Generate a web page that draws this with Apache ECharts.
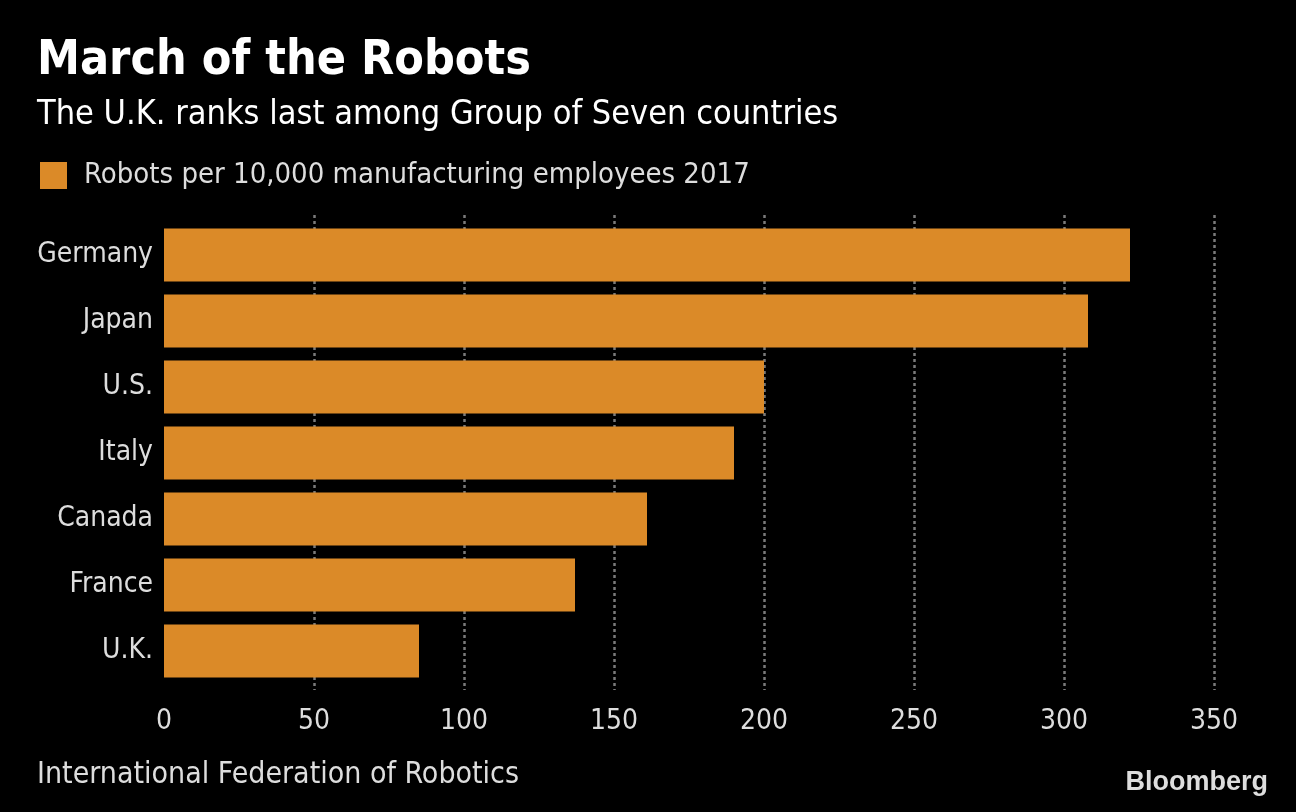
<!DOCTYPE html>
<html><head><meta charset="utf-8">
<script src="https://cdn.jsdelivr.net/npm/echarts@6/dist/echarts.min.js"></script>
<style>html,body{margin:0;padding:0;background:#000;}#c{width:1296px;height:812px;}</style>
</head><body><div id="c"></div>
<script>
const countries = ['Germany','Japan','U.S.','Italy','Canada','France','U.K.'];
const robots = [322, 308, 200, 190, 161, 137, 85];
const seriesName = 'Robots per 10,000 manufacturing employees 2017';
const xTicks = [0, 50, 100, 150, 200, 250, 300, 350];

const FONT = '"DejaVu Sans Condensed", "DejaVu Sans", sans-serif';
const chart = echarts.init(document.getElementById('c'));
chart.setOption({
  backgroundColor: '#000',
  animation: false,
  title: [
    {text: 'March of the Robots', left: 32, top: 33,
     textStyle: {color: '#fff', fontFamily: FONT, fontWeight: 'bold', fontSize: 48}},
    {text: 'The U.K. ranks last among Group of Seven countries', left: 32, top: 93,
     textStyle: {color: '#fff', fontFamily: FONT, fontWeight: 'normal', fontSize: 34}},
    {text: 'International Federation of Robotics', left: 32, top: 755,
     textStyle: {color: '#ddd', fontFamily: FONT, fontWeight: 'normal', fontSize: 30}},
    {text: 'Bloomberg', right: 23, top: 764,
     textStyle: {color: '#ddd', fontFamily: 'Liberation Sans, Arial, sans-serif', fontWeight: 'bold', fontSize: 27, letterSpacing: -1}}
  ],
  legend: {
    left: 35, top: 156, itemWidth: 27, itemHeight: 27, itemGap: 10, icon: 'rect',
    textStyle: {color: '#ddd', fontFamily: FONT, fontSize: 29, padding: [0,0,0,12]},
    data: [seriesName]
  },
  grid: [
    {left: 164, right: 82, top: 222, height: 462, containLabel: false},
    {left: 164, right: 82, top: 215, height: 475, containLabel: false}
  ],
  xAxis: [
    {gridIndex: 0, type: 'value', min: 0, max: 350, interval: 50,
     axisLine: {show: false}, axisTick: {show: false}, splitLine: {show: false},
     axisLabel: {color: '#ddd', fontFamily: FONT, fontSize: 28, margin: 24,
       formatter: v => xTicks.includes(v) ? String(v) : ''}},
    {gridIndex: 1, type: 'value', min: 0, max: 350, interval: 50,
     axisLine: {show: false}, axisTick: {show: false}, axisLabel: {show: false},
     splitLine: {show: true, showMinLine: false,
       lineStyle: {color: '#7a7a7a', width: 2.5, type: [3, 3]}}}
  ],
  yAxis: [
    {gridIndex: 0, type: 'category', data: countries, inverse: true,
     axisLine: {show: false}, axisTick: {show: false},
     axisLabel: {color: '#ddd', fontFamily: FONT, fontSize: 28, margin: 11}},
    {gridIndex: 1, type: 'value', show: false, min: 0, max: 1}
  ],
  series: [
    {name: seriesName, type: 'bar', xAxisIndex: 0, yAxisIndex: 0, data: robots,
     barCategoryGap: '20%', itemStyle: {color: '#db8a28'}, z: 3}
  ]
});
</script></body></html>
